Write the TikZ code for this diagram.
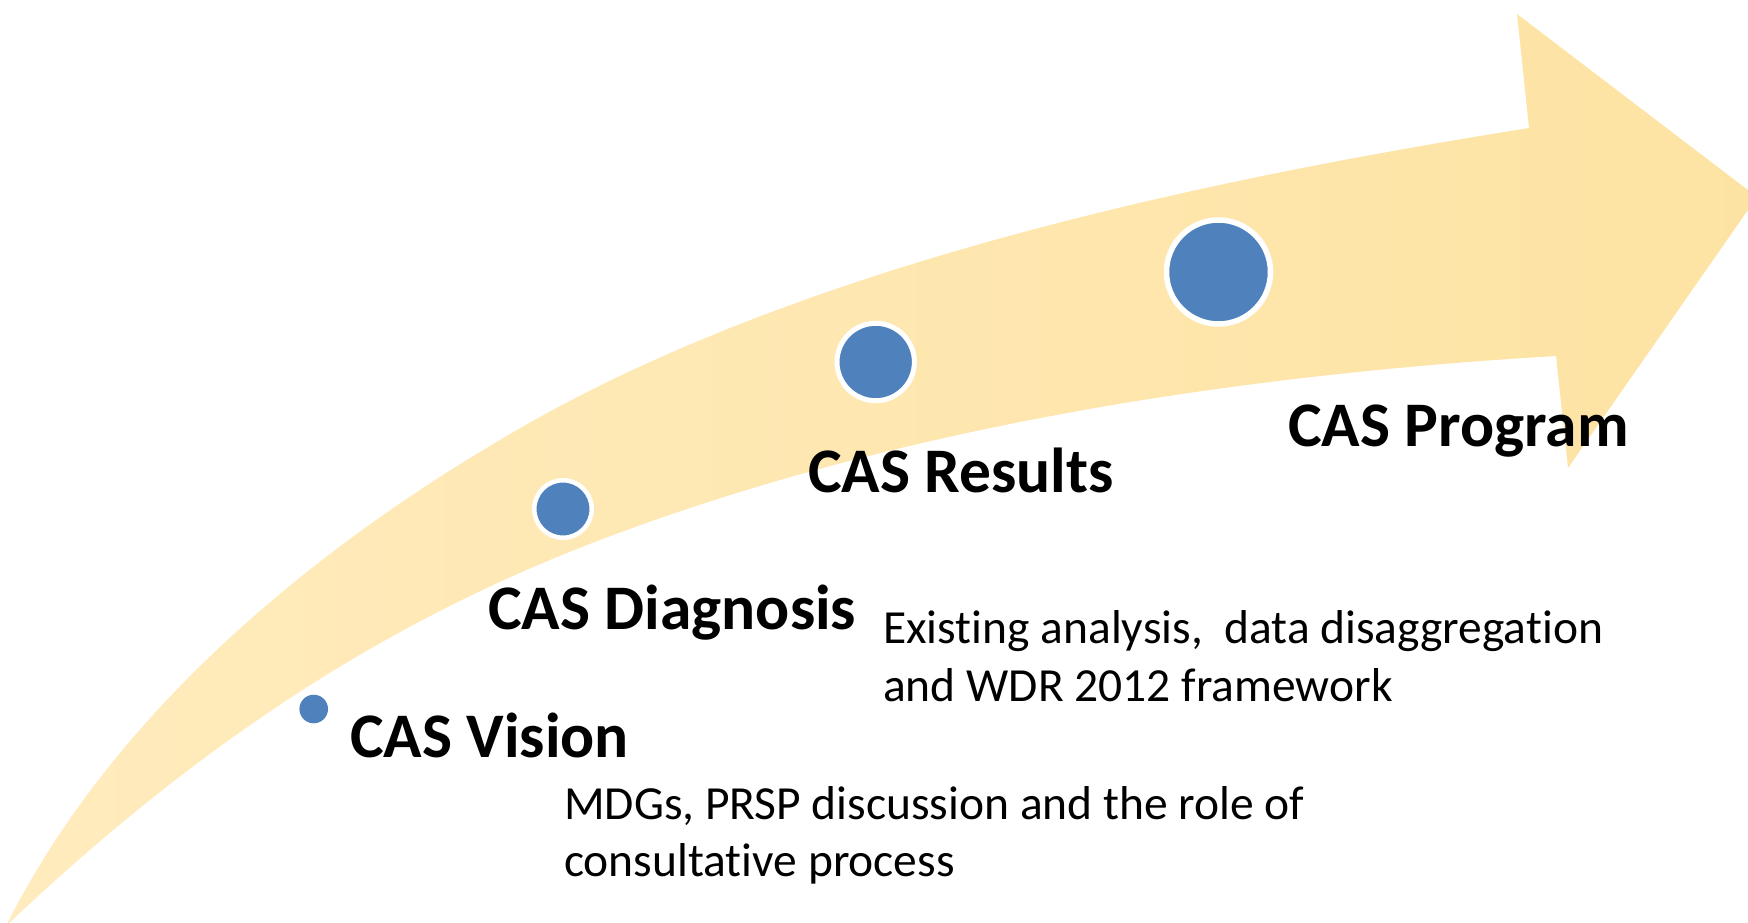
\documentclass[tikz,border=0pt]{standalone}
\usepackage{fontspec}
\setmainfont{Carlito}[Ligatures=NoCommon]
\definecolor{arrowA}{RGB}{255,235,189}
\definecolor{arrowB}{RGB}{253,227,163}
\definecolor{dotblue}{RGB}{79,129,189}
\begin{document}
\begin{tikzpicture}[x=1pt,y=-1pt,
  dot/.style={circle, fill=dotblue, draw=white, inner sep=0pt},
  heading/.style={anchor=base west, inner sep=0pt, font=\fontsize{63.5}{76}\selectfont\bfseries},
  desc/.style={anchor=base west, inner sep=0pt, font=\fontsize{47.5}{57.7}\selectfont}]
\useasboundingbox (0,0) rectangle (1748,923);
\begin{scope}
\clip (0,0) rectangle (1748,923);
\shade[left color=arrowA, right color=arrowB]
  (6,926) .. controls (118,702) and (330,540) .. (500,440)
  .. controls (800,260) and (1229,176) .. (1529,128)
  -- (1517,14) -- (1757,197) -- (1568,468) -- (1556,356)
  .. controls (1236,375) and (900,426) .. (600,540)
  .. controls (400,616) and (210,732) .. (6,926) -- cycle;
\end{scope}
% dots
\node[dot, draw=none, minimum size=28.6pt] (dv) at (313.7,709) {};
\node[dot, line width=4.5pt, minimum size=57.5pt] (dd) at (563,509) {};
\node[dot, line width=5pt, minimum size=77.4pt] (dr) at (875.7,362) {};
\node[dot, line width=5.5pt, minimum size=104pt] (dp) at (1218.5,272) {};
% headings
\node[heading] (hv) at (350,757) {CAS Vision};
\node[heading] (hd) at (488,629) {CAS Diagnosis};
\node[heading] (hr) at (808,492) {CAS Results};
\node[heading] (hp) at (1288,446) {CAS Program};
% descriptions
\node[desc] (d1a) at (883,643) {Existing analysis,~\ data disaggregation};
\node[desc] (d1b) at (883,701) {and WDR 2012 framework};
\node[desc] (d2a) at (564,819) {MDGs, PRSP discussion and the role of};
\node[desc] (d2b) at (564,876) {consultative process};
\end{tikzpicture}
\end{document}
